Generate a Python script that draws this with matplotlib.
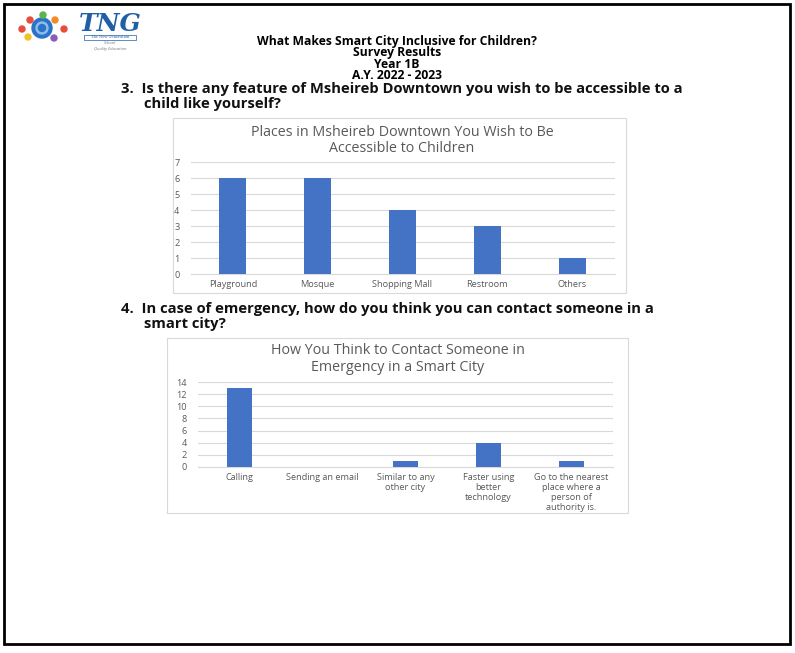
import matplotlib
matplotlib.use("Agg")
import matplotlib.pyplot as plt
from matplotlib.patches import Rectangle, Circle
import numpy as np

plt.rcParams['font.family'] = ['Open Sans', 'DejaVu Sans']

W, H = 795, 653

# survey data
places = ["Playground", "Mosque", "Shopping Mall", "Restroom", "Others"]
places_counts = [6, 6, 4, 3, 1]

contact = ["Calling", "Sending an email", "Similar to any\nother city",
           "Faster using\nbetter\ntechnology",
           "Go to the nearest\nplace where a\nperson of\nauthority is."]
contact_counts = [13, 0, 1, 4, 1]

header_lines = ["What Makes Smart City Inclusive for Children?",
                "Survey Results", "Year 1B", "A.Y. 2022 - 2023"]

BAR = "#4472C4"
GREY = "#595959"
GRID = "#d9d9d9"


def fx(x):
    return x / W


def fy(y):
    return 1 - y / H


def add_ax(fig, x0, y0, x1, y1):
    return fig.add_axes([fx(x0), fy(y1), (x1 - x0) / W, (y1 - y0) / H])


def box(fig, x0, y0, x1, y1, color, lw):
    fig.patches.append(Rectangle((fx(x0), fy(y1)), (x1 - x0) / W, (y1 - y0) / H,
                                 transform=fig.transFigure, fill=False,
                                 edgecolor=color, lw=lw))


def bar_chart(ax, labels, values, ymax, step, width):
    x = np.arange(len(labels))
    ax.bar(x, values, width=width, color=BAR, zorder=3)
    ax.set_xlim(-0.5, len(labels) - 0.5)
    ax.set_ylim(0, ymax)
    ax.set_yticks(np.arange(0, ymax + 1, step))
    ax.set_xticks(x)
    ax.set_xticklabels(labels, fontsize=6.6, color=GREY, linespacing=1.15)
    ax.tick_params(axis='y', labelsize=6.6, labelcolor=GREY, length=0, pad=8)
    ax.tick_params(axis='x', length=0, pad=4.5)
    ax.grid(axis='y', color=GRID, lw=0.8, zorder=0)
    for s in ["top", "right", "left"]:
        ax.spines[s].set_visible(False)
    ax.spines["bottom"].set_color(GRID)
    ax.spines["bottom"].set_linewidth(0.8)


def draw_logo(fig):
    # rough version of the school logo
    ax = add_ax(fig, 10, 5, 150, 55)
    ax.set_xlim(10, 150)
    ax.set_ylim(55, 5)
    ax.axis('off')
    ax.add_patch(Circle((42, 28), 10, color="#2a73c9"))
    ax.add_patch(Circle((42, 28), 6, color="#8fbdea"))
    ax.add_patch(Circle((42, 28), 3.5, color="#2a73c9"))
    dots = [((43, 15), "#5bb54a"), ((30, 20), "#e94b3c"), ((22, 29), "#e94b3c"),
            ((28, 37), "#f2c12e"), ((54, 38), "#8c5bb5"), ((55, 20), "#f28c28"),
            ((64, 29), "#e94b3c")]
    for (cx, cy), c in dots:
        ax.add_patch(Circle((cx, cy), 3, color=c))
    ax.text(110, 24, "TNG", fontsize=18, family="DejaVu Serif", style="italic",
            weight="bold", color="#1f5fa8", ha="center", va="center")
    ax.add_patch(Rectangle((84, 35), 52, 4.5, fill=False, edgecolor="#1f5fa8", lw=0.5))
    ax.text(110, 37.3, "The New Generation", fontsize=2.6, family="DejaVu Serif",
            color="#1f5fa8", ha="center", va="center")
    ax.text(110, 43.5, "School", fontsize=3, style="italic", color="#777777",
            ha="center", va="center")
    ax.text(110, 49, "Quality Education", fontsize=3, style="italic",
            color="#777777", ha="center", va="center")


def main():
    fig = plt.figure(figsize=(W / 100, H / 100), dpi=100)

    # page border
    box(fig, 4, 4, 790, 644, "black", 2.0)

    draw_logo(fig)

    # header block as one text so the lines can sit tight
    fig.text(fx(397), fy(58.5), "\n".join(header_lines), fontsize=8.7,
             weight='bold', ha='center', va='center', linespacing=0.82)

    qs = dict(fontsize=10.6, weight='bold', va='center', color="#111111")
    fig.text(fx(121), fy(89), "3.  Is there any feature of Msheireb Downtown you wish to be accessible to a", **qs)
    fig.text(fx(144), fy(104), "child like yourself?", **qs)
    fig.text(fx(121), fy(309), "4.  In case of emergency, how do you think you can contact someone in a", **qs)
    fig.text(fx(144), fy(324), "smart city?", **qs)

    # chart 1
    box(fig, 173, 118, 626, 293, GRID, 0.8)
    fig.text(fx(402), fy(140.5), "Places in Msheireb Downtown You Wish to Be\nAccessible to Children",
             fontsize=10.3, color=GREY, ha='center', va='center', linespacing=1.15)
    ax1 = add_ax(fig, 190.5, 162, 614.5, 274)
    bar_chart(ax1, places, places_counts, 7, 1, 0.32)

    # chart 2
    box(fig, 167, 338, 628, 513, GRID, 0.8)
    fig.text(fx(398), fy(359), "How You Think to Contact Someone in\nEmergency in a Smart City",
             fontsize=10.3, color=GREY, ha='center', va='center', linespacing=1.15)
    ax2 = add_ax(fig, 198, 382, 613, 467)
    bar_chart(ax2, contact, contact_counts, 14, 2, 0.3)

    fig.savefig("out.png", dpi=100)


if __name__ == '__main__':
    main()
